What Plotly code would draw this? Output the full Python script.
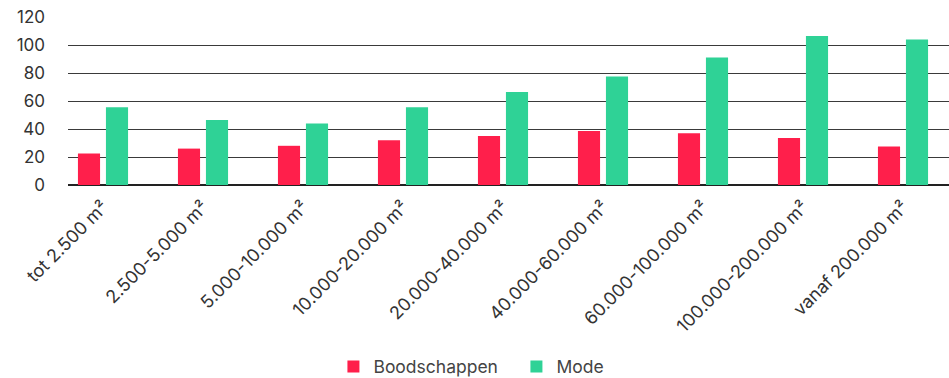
import plotly.graph_objects as go

# Size classes of shopping areas and the two series per class
categories = [
    "tot 2.500 m²", "2.500-5.000 m²", "5.000-10.000 m²", "10.000-20.000 m²",
    "20.000-40.000 m²", "40.000-60.000 m²", "60.000-100.000 m²",
    "100.000-200.000 m²", "vanaf 200.000 m²",
]
boodschappen = [22.5, 26, 28, 32, 35, 38.5, 37, 33.5, 27.5]
mode = [55.5, 46.5, 44, 55.5, 66.5, 77.5, 91, 106.5, 104]
y_ticks = [0, 20, 40, 60, 80, 100, 120]

RED = "#FF1F4B"
GREEN = "#2FD296"
TEXT = "#333333"

fig = go.Figure()
fig.add_trace(go.Bar(name="Boodschappen", x=categories, y=boodschappen,
                     marker=dict(color=RED, line=dict(width=0))))
fig.add_trace(go.Bar(name="Mode", x=categories, y=mode,
                     marker=dict(color=GREEN, line=dict(width=0))))

fig.update_layout(
    width=949, height=378,
    margin=dict(l=68, r=0, t=17, b=193),
    paper_bgcolor="white", plot_bgcolor="white",
    barmode="group", bargap=0.44, bargroupgap=0.21,
    font=dict(family="Inter, Roboto, sans-serif", size=16, color=TEXT),
    showlegend=True,
    legend=dict(orientation="h", x=0.509, xanchor="center",
                yref="container", y=0.03, yanchor="middle",
                font=dict(size=17.5, color="#444444"), itemwidth=30,
                entrywidth=138, traceorder="normal"),
)
fig.update_xaxes(
    type="category", range=[-0.35, 8.46], tickangle=-45,
    showgrid=False, showline=False, ticks="", automargin=False,
    ticklabelstandoff=7, tickfont=dict(size=18, color=TEXT),
)
fig.update_yaxes(
    range=[0, 120], tickvals=y_ticks, showgrid=True, gridcolor="#3a3a3a",
    gridwidth=1, zeroline=True, zerolinecolor="#222222", zerolinewidth=1.5,
    showline=False, ticks="", ticklabelstandoff=22, automargin=False,
    tickfont=dict(size=17, color=TEXT),
)

fig.write_html("out.html")
